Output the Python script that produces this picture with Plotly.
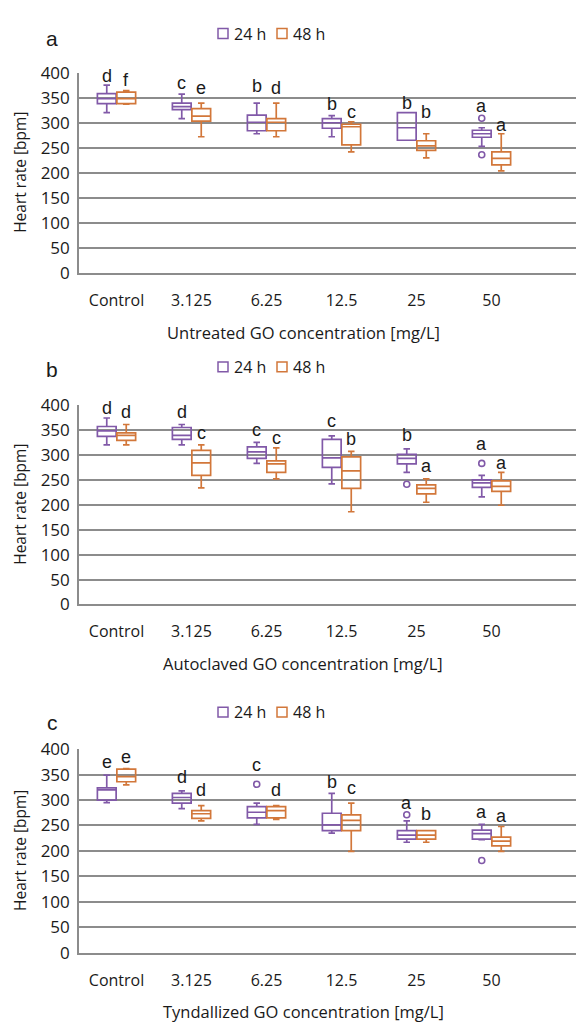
import plotly.graph_objects as go

# ---------------- data ----------------
categories = ["Control", "3.125", "6.25", "12.5", "25", "50"]
series_names = ["24 h", "48 h"]
x_titles = ["Untreated GO concentration [mg/L]",
            "Autoclaved GO concentration [mg/L]",
            "Tyndallized GO concentration [mg/L]"]
panel_tags = ["a", "b", "c"]

# Panel a (untreated)
a24_low = [320, 308, 278, 272, 265, 253]
a24_q1 = [338, 326, 284, 289, 265, 271]
a24_med = [348, 332, 301, 300, 290, 278]
a24_q3 = [358, 339, 315, 308, 320, 285]
a24_high = [375, 357, 339, 314, 320, 290]
a48_low = [337, 272, 272, 242, 230, 204]
a48_q1 = [338, 303, 284, 256, 245, 216]
a48_med = [348, 313, 301, 292, 254, 229]
a48_q3 = [361, 328, 308, 297, 264, 242]
a48_high = [364, 339, 339, 302, 278, 278]
a24_out_cat = [5, 5]
a24_out_val = [309, 236]
a48_out_cat = []
a48_out_val = []
a24_letters = ["d", "c", "b", "b", "b", "a"]
a24_letter_y = [393, 380, 373, 338, 339, 334]
a48_letters = ["f", "e", "d", "c", "b", "a"]
a48_letter_y = [386, 370, 369, 322, 321, 295]

# Panel b (autoclaved)
b24_low = [320, 320, 283, 242, 265, 216]
b24_q1 = [337, 331, 293, 275, 282, 235]
b24_med = [348, 339, 306, 294, 293, 244]
b24_q3 = [357, 355, 316, 331, 301, 250]
b24_high = [374, 361, 325, 338, 312, 259]
b48_low = [320, 234, 252, 186, 205, 199]
b48_q1 = [329, 259, 265, 233, 222, 227]
b48_med = [339, 284, 282, 268, 233, 237]
b48_q3 = [344, 309, 288, 296, 240, 248]
b48_high = [361, 320, 314, 307, 252, 265]
b24_out_cat = [4, 5]
b24_out_val = [241, 283]
b48_out_cat = []
b48_out_val = []
b24_letters = ["d", "d", "c", "c", "b", "a"]
b24_letter_y = [394, 386, 350, 369, 339, 322]
b48_letters = ["d", "c", "c", "b", "a", "a"]
b48_letter_y = [386, 343, 333, 331, 277, 284]

# Panel c (tyndallized)
c24_low = [295, 283, 252, 235, 217, 222]
c24_q1 = [300, 294, 265, 240, 223, 223]
c24_med = [320, 305, 276, 251, 231, 234]
c24_q3 = [324, 313, 287, 274, 240, 241]
c24_high = [349, 318, 294, 313, 259, 252]
c48_low = [330, 259, 262, 199, 217, 199]
c48_q1 = [336, 264, 265, 240, 223, 210]
c48_med = [346, 273, 279, 260, 231, 219]
c48_q3 = [361, 279, 287, 271, 240, 227]
c48_high = [362, 289, 289, 294, 240, 248]
c24_out_cat = [2, 4, 5]
c24_out_val = [331, 271, 181]
c48_out_cat = []
c48_out_val = []
c24_letters = ["e", "d", "c", "b", "a", "a"]
c24_letter_y = [374, 346, 369, 336, 294, 277]
c48_letters = ["e", "d", "d", "c", "b", "a"]
c48_letter_y = [384, 320, 320, 324, 272, 269]

# ---------------- style ----------------
W, H = 576, 1032
C24 = "#8159A8"
C48 = "#D2773A"
GRID = "#8c8c8c"
TXT = "#1a1a1a"
OFF = 0.13
BOXW = 0.25

panels = [
    dict(s24=(a24_low, a24_q1, a24_med, a24_q3, a24_high), s48=(a48_low, a48_q1, a48_med, a48_q3, a48_high),
         o24=(a24_out_cat, a24_out_val), o48=(a48_out_cat, a48_out_val),
         l24=(a24_letters, a24_letter_y), l48=(a48_letters, a48_letter_y), top=62, bot=267,
         leg_y=22, tag_y=27, xt_y=328),
    dict(s24=(b24_low, b24_q1, b24_med, b24_q3, b24_high), s48=(b48_low, b48_q1, b48_med, b48_q3, b48_high),
         o24=(b24_out_cat, b24_out_val), o48=(b48_out_cat, b48_out_val),
         l24=(b24_letters, b24_letter_y), l48=(b48_letters, b48_letter_y), top=402, bot=606,
         leg_y=363, tag_y=366, xt_y=666),
    dict(s24=(c24_low, c24_q1, c24_med, c24_q3, c24_high), s48=(c48_low, c48_q1, c48_med, c48_q3, c48_high),
         o24=(c24_out_cat, c24_out_val), o48=(c48_out_cat, c48_out_val),
         l24=(c24_letters, c24_letter_y), l48=(c48_letters, c48_letter_y), top=754, bot=962,
         leg_y=716, tag_y=727, xt_y=1022),
]

fig = go.Figure()
annotations = []
shapes = []
layout_axes = {}
x_left_px = 79
x_range = [-0.5, -0.5 + (W - x_left_px) / 75.0]
leg_sq_x = [218, 277]      # legend square left edges (px)
leg_txt_x = [232, 291]     # legend text left edges (px)
SQ = 10

for p, P in enumerate(panels):
    n = "" if p == 0 else str(p + 1)
    xa, ya = "x" + n, "y" + n
    for si, (key, okey, lkey, col, off) in enumerate([("s24", "o24", "l24", C24, -OFF),
                                                     ("s48", "o48", "l48", C48, OFF)]):
        lo, q1, med, q3, hi = P[key]
        xs = [i + off for i in range(len(categories))]
        fig.add_trace(go.Box(
            x=xs, lowerfence=lo, q1=q1, median=med, q3=q3, upperfence=hi,
            width=BOXW, whiskerwidth=0.35, name=series_names[si],
            line=dict(color=col, width=1.7), fillcolor="rgba(255,255,255,0)",
            boxpoints=False, xaxis=xa, yaxis=ya, showlegend=False,
            hoverinfo="skip"))
        oc, ov = P[okey]
        if oc:
            fig.add_trace(go.Scatter(
                x=[c + off for c in oc], y=ov, mode="markers",
                marker=dict(symbol="circle-open", size=6, color=col, line=dict(width=1.6)),
                xaxis=xa, yaxis=ya, showlegend=False, hoverinfo="skip"))
        letters, ly = P[lkey]
        for i, (t, yv) in enumerate(zip(letters, ly)):
            annotations.append(dict(x=i + off, y=yv, xref=xa, yref=ya, text=t, showarrow=False,
                                    font=dict(family="Liberation Sans, Arial", size=18, color=TXT),
                                    xanchor="center", yanchor="middle"))
        # legend entry: outlined square + text
        yc = 1 - P["leg_y"] / H
        shapes.append(dict(type="rect", xref="paper", yref="paper",
                           x0=leg_sq_x[si] / W, x1=(leg_sq_x[si] + SQ) / W,
                           y0=yc - SQ / 2 / H, y1=yc + SQ / 2 / H,
                           line=dict(color=col, width=1.5), fillcolor="rgba(0,0,0,0)"))
        annotations.append(dict(x=leg_txt_x[si] / W, y=yc, xref="paper", yref="paper",
                                text=series_names[si], showarrow=False,
                                font=dict(family="Open Sans", size=16, color=TXT),
                                xanchor="left", yanchor="middle"))
    y0 = 1 - P["bot"] / H
    y1 = 1 - P["top"] / H
    layout_axes["xaxis" + n] = dict(
        domain=[x_left_px / W, 1.0], range=x_range, anchor=ya,
        tickmode="array", tickvals=list(range(len(categories))), ticktext=categories,
        showgrid=False, zeroline=False, showline=True, linecolor=GRID, linewidth=1.6,
        ticks="", ticklabelstandoff=12,
        tickfont=dict(family="Open Sans", size=16, color=TXT))
    layout_axes["yaxis" + n] = dict(
        domain=[y0, y1], range=[0, 400], dtick=50, anchor=xa,
        showgrid=True, gridcolor=GRID, gridwidth=1.6, zeroline=False,
        showline=True, linecolor=GRID, linewidth=1.6, ticks="", ticklabelstandoff=4,
        tickfont=dict(family="Open Sans", size=17, color=TXT))
    # panel tag
    annotations.append(dict(x=52 / W, y=1 - P["tag_y"] / H, xref="paper", yref="paper",
                            text=panel_tags[p], showarrow=False,
                            font=dict(family="Liberation Sans, Arial", size=21, color=TXT),
                            xanchor="center", yanchor="middle"))
    # x title
    annotations.append(dict(x=303 / W, y=1 - P["xt_y"] / H, xref="paper", yref="paper",
                            text=x_titles[p], showarrow=False,
                            font=dict(family="Open Sans", size=16.5, color=TXT),
                            xanchor="center", yanchor="middle"))
    # y title
    annotations.append(dict(x=20 / W, y=1 - (P["top"] + P["bot"]) / 2 / H, xref="paper", yref="paper",
                            text="Heart rate [bpm]", showarrow=False, textangle=-90,
                            font=dict(family="Open Sans", size=15.5, color=TXT),
                            xanchor="center", yanchor="middle"))

fig.update_layout(
    width=W, height=H, margin=dict(l=0, r=0, t=0, b=0),
    paper_bgcolor="white", plot_bgcolor="white", showlegend=False,
    annotations=annotations, shapes=shapes, **layout_axes)

fig.write_html("out.html")
